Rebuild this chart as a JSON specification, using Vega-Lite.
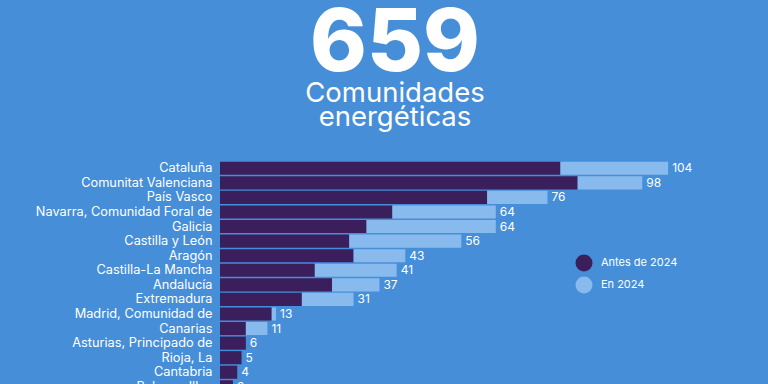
{
  "$schema": "https://vega.github.io/schema/vega-lite/v6.json",
  "autosize": {"type": "none"},
  "padding": {"left": 220, "top": 161, "right": 74, "bottom": 10},
  "width": 474,
  "height": {"step": 14.57},
  "background": "#468ed8",
  "title": {
    "text": "659",
    "subtitle": ["Comunidades", "energéticas"],
    "anchor": "middle",
    "frame": "group",
    "dx": -62,
    "offset": 28,
    "font": "Inter",
    "fontSize": 86,
    "fontWeight": 800,
    "color": "#ffffff",
    "subtitleFont": "Inter",
    "subtitleFontSize": 27.5,
    "subtitleColor": "#ffffff",
    "subtitleLineHeight": 24.5,
    "subtitlePadding": -9
  },
  "data": {
    "values": [
      {"region": "Cataluña", "periodo": "Antes de 2024", "valor": 79},
      {"region": "Cataluña", "periodo": "En 2024", "valor": 25},
      {"region": "Comunitat Valenciana", "periodo": "Antes de 2024", "valor": 83},
      {"region": "Comunitat Valenciana", "periodo": "En 2024", "valor": 15},
      {"region": "País Vasco", "periodo": "Antes de 2024", "valor": 62},
      {"region": "País Vasco", "periodo": "En 2024", "valor": 14},
      {"region": "Navarra, Comunidad Foral de", "periodo": "Antes de 2024", "valor": 40},
      {"region": "Navarra, Comunidad Foral de", "periodo": "En 2024", "valor": 24},
      {"region": "Galicia", "periodo": "Antes de 2024", "valor": 34},
      {"region": "Galicia", "periodo": "En 2024", "valor": 30},
      {"region": "Castilla y León", "periodo": "Antes de 2024", "valor": 30},
      {"region": "Castilla y León", "periodo": "En 2024", "valor": 26},
      {"region": "Aragón", "periodo": "Antes de 2024", "valor": 31},
      {"region": "Aragón", "periodo": "En 2024", "valor": 12},
      {"region": "Castilla-La Mancha", "periodo": "Antes de 2024", "valor": 22},
      {"region": "Castilla-La Mancha", "periodo": "En 2024", "valor": 19},
      {"region": "Andalucía", "periodo": "Antes de 2024", "valor": 26},
      {"region": "Andalucía", "periodo": "En 2024", "valor": 11},
      {"region": "Extremadura", "periodo": "Antes de 2024", "valor": 19},
      {"region": "Extremadura", "periodo": "En 2024", "valor": 12},
      {"region": "Madrid, Comunidad de", "periodo": "Antes de 2024", "valor": 12},
      {"region": "Madrid, Comunidad de", "periodo": "En 2024", "valor": 1},
      {"region": "Canarias", "periodo": "Antes de 2024", "valor": 6},
      {"region": "Canarias", "periodo": "En 2024", "valor": 5},
      {"region": "Asturias, Principado de", "periodo": "Antes de 2024", "valor": 6},
      {"region": "Asturias, Principado de", "periodo": "En 2024", "valor": 0},
      {"region": "Rioja, La", "periodo": "Antes de 2024", "valor": 5},
      {"region": "Rioja, La", "periodo": "En 2024", "valor": 0},
      {"region": "Cantabria", "periodo": "Antes de 2024", "valor": 4},
      {"region": "Cantabria", "periodo": "En 2024", "valor": 0},
      {"region": "Balears, Illes", "periodo": "Antes de 2024", "valor": 3},
      {"region": "Balears, Illes", "periodo": "En 2024", "valor": 0}
    ]
  },
  "encoding": {
    "y": {
      "field": "region",
      "type": "nominal",
      "sort": null,
      "scale": {"paddingInner": 0.1, "paddingOuter": 0.05},
      "axis": {
        "title": null,
        "domain": false,
        "ticks": false,
        "labelPadding": 8,
        "labelFont": "Inter",
        "labelFontSize": 12.8,
        "labelColor": "#ffffff",
        "labelLimit": 300
      }
    }
  },
  "layer": [
    {
      "mark": {"type": "bar"},
      "encoding": {
        "x": {
          "field": "valor",
          "type": "quantitative",
          "stack": "zero",
          "scale": {"domain": [0, 110]},
          "axis": null
        },
        "color": {
          "field": "periodo",
          "type": "nominal",
          "scale": {"domain": ["Antes de 2024", "En 2024"], "range": ["#3a1f5c", "#88baee"]},
          "legend": {
            "title": null,
            "orient": "none",
            "legendX": 355,
            "legendY": 93,
            "symbolType": "circle",
            "symbolSize": 290,
            "symbolStrokeWidth": 0,
            "symbolOpacity": 1,
            "rowPadding": 4,
            "labelOffset": 8,
            "labelFont": "Inter",
            "labelFontSize": 11,
            "labelColor": "#ffffff"
          }
        }
      }
    },
    {
      "mark": {"type": "text", "align": "left", "dx": 4, "font": "Inter", "fontSize": 12, "color": "#ffffff"},
      "encoding": {
        "x": {"aggregate": "sum", "field": "valor", "type": "quantitative"},
        "text": {"aggregate": "sum", "field": "valor", "type": "quantitative"}
      }
    }
  ],
  "config": {"view": {"stroke": null}}
}
